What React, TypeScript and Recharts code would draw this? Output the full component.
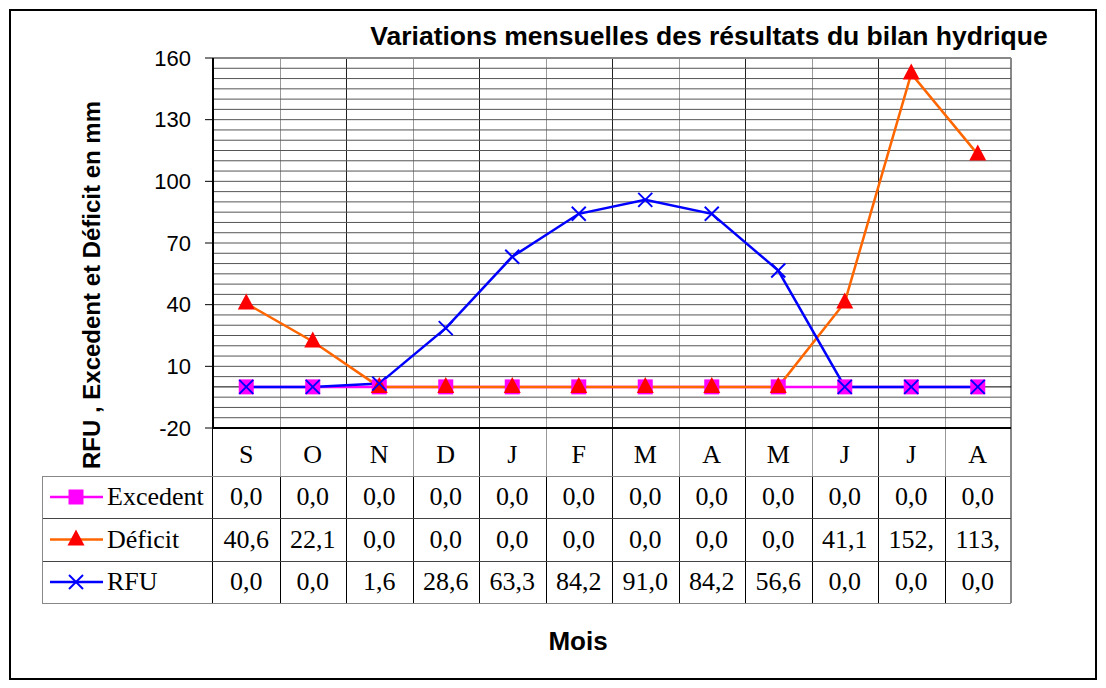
import React from 'react'
import { ComposedChart, Line, XAxis, YAxis, ReferenceLine } from 'recharts'

const months = ['S', 'O', 'N', 'D', 'J', 'F', 'M', 'A', 'M', 'J', 'J', 'A']
const excedent = [0, 0, 0, 0, 0, 0, 0, 0, 0, 0, 0, 0]
const deficit = [40.6, 22.1, 0, 0, 0, 0, 0, 0, 0, 41.1, 152.4, 113.1]
const rfu = [0, 0, 1.6, 28.6, 63.3, 84.2, 91.0, 84.2, 56.6, 0, 0, 0]
const yTicks = [-20, 10, 40, 70, 100, 130, 160]
const gridValues = Array.from({ length: 37 }, (_, i) => -20 + 5 * i).filter(
  (v) => v !== -20 && v !== 0 && v !== 160,
)

const rows = months.map((m, i) => ({
  idx: i,
  excedent: excedent[i],
  deficit: deficit[i],
  rfu: rfu[i],
}))

const W = 1106
const H = 688
const plotLeft = 213
const plotRight = 1011
const plotTop = 58
const plotBottom = 428
const colW = (plotRight - plotLeft) / 12
const rowTops = [428, 476, 518, 561, 603]

const sans = '"Liberation Sans", Arial, sans-serif'
const serif = '"Liberation Serif", "Times New Roman", serif'

// cells in the source table are too narrow for 5 characters, so "152,4" shows as "152,"
const fmt = (v: number) => v.toFixed(1).replace('.', ',').slice(0, 4)

function SquareDot(props: any) {
  const { cx, cy } = props
  if (cx == null || cy == null) return null
  return <rect x={cx - 7.5} y={cy - 7.5} width={15} height={15} fill="#FF00FF" />
}

function TriangleDot(props: any) {
  const { cx, cy } = props
  if (cx == null || cy == null) return null
  return <polygon points={`${cx},${cy - 10} ${cx - 8.5},${cy + 6} ${cx + 8.5},${cy + 6}`} fill="#FF0000" />
}

function CrossDot(props: any) {
  const { cx, cy } = props
  if (cx == null || cy == null) return null
  return (
    <g stroke="#0000FF" strokeWidth={2}>
      <line x1={cx - 7} y1={cy - 7} x2={cx + 7} y2={cy + 7} />
      <line x1={cx - 7} y1={cy + 7} x2={cx + 7} y2={cy - 7} />
    </g>
  )
}

const legendRows = [
  { label: 'Excedent', color: '#FF00FF', values: excedent, Marker: SquareDot },
  { label: 'Déficit', color: '#FF6600', values: deficit, Marker: TriangleDot },
  { label: 'RFU', color: '#0000FF', values: rfu, Marker: CrossDot },
]

export default function App() {
  const abs = (s: React.CSSProperties): React.CSSProperties => ({ position: 'absolute', ...s })

  return (
    <div style={{ position: 'fixed', left: 0, top: 0, width: W, height: H, background: '#fff', overflow: 'hidden' }}>
      {/* outer frame */}
      <div style={abs({ left: 9, top: 9, width: 1084, height: 667, border: '2px solid #000' })} />

      {/* vertical grid lines through plot and header row */}
      {months.slice(1).map((_, i) => (
        <div
          key={'vg' + i}
          style={abs({
            left: plotLeft + (i + 1) * colW,
            top: plotTop,
            width: 1,
            height: rowTops[1] - plotTop,
            background: i % 2 === 0 ? '#999' : '#222',
          })}
        />
      ))}
      {months.slice(1).map((_, i) => (
        <div
          key={'vt' + i}
          style={abs({
            left: plotLeft + (i + 1) * colW,
            top: rowTops[1],
            width: 1,
            height: rowTops[4] - rowTops[1],
            background: '#000',
          })}
        />
      ))}
      <div style={abs({ left: plotRight - 1, top: plotTop, width: 2, height: rowTops[4] - plotTop, background: '#888' })} />
      <div style={abs({ left: plotLeft - 1, top: plotBottom, width: 1, height: rowTops[4] - plotBottom, background: '#000' })} />

      {/* table horizontal lines */}
      {rowTops.slice(1).map((t, i) => (
        <div key={'th' + i} style={abs({ left: 42, top: t, width: plotRight - 42, height: 1, background: i === 0 || i === 3 ? '#888' : '#444' })} />
      ))}
      <div style={abs({ left: 42, top: rowTops[1], width: 1, height: rowTops[4] - rowTops[1], background: '#888' })} />

      {/* table rows */}
      {legendRows.map((r, ri) => {
        const top = rowTops[ri + 1]
        const h = rowTops[ri + 2] - top
        const M = r.Marker
        return (
          <React.Fragment key={r.label}>
            <svg style={abs({ left: 48, top, width: 58, height: h })}>
              <line x1={2} x2={55} y1={h / 2} y2={h / 2} stroke={r.color} strokeWidth={2.5} />
              <M cx={28} cy={h / 2} />
            </svg>
            <div
              style={abs({
                left: 107,
                top,
                height: h,
                lineHeight: h + 'px',
                fontFamily: serif,
                fontSize: 26,
                color: '#000',
              })}
            >
              {r.label}
            </div>
            {r.values.map((v, i) => (
              <div
                key={i}
                style={abs({
                  left: plotLeft + i * colW,
                  top,
                  width: colW,
                  height: h,
                  lineHeight: h + 'px',
                  textAlign: 'center',
                  fontFamily: serif,
                  fontSize: 26,
                  color: '#000',
                })}
              >
                {fmt(v)}
              </div>
            ))}
          </React.Fragment>
        )
      })}

      {/* title */}
      <div
        style={abs({
          left: 309,
          width: 800,
          top: 21,
          textAlign: 'center',
          fontFamily: sans,
          fontWeight: 'bold',
          fontSize: 26.5,
          color: '#000',
          whiteSpace: 'nowrap',
        })}
      >
        Variations mensuelles des résultats du bilan hydrique
      </div>

      {/* y label */}
      <div
        style={abs({
          left: 92 - 250,
          top: 285 - 15,
          width: 500,
          height: 30,
          lineHeight: '30px',
          textAlign: 'center',
          transform: 'rotate(-90deg)',
          fontFamily: sans,
          fontWeight: 'bold',
          fontSize: 24,
          color: '#000',
          whiteSpace: 'nowrap',
        })}
      >
        RFU , Excedent et Déficit en mm
      </div>

      {/* x label */}
      <div
        style={abs({
          left: 478,
          width: 200,
          top: 626,
          textAlign: 'center',
          fontFamily: sans,
          fontWeight: 'bold',
          fontSize: 26,
          color: '#000',
        })}
      >
        Mois
      </div>

      <div style={abs({ left: 0, top: 0 })}>
        <ComposedChart
          width={W}
          height={H}
          data={rows}
          margin={{ top: plotTop, left: plotLeft - 70, right: W - plotRight, bottom: H - plotBottom - 30 }}
        >
          {gridValues.map((v) => (
            <ReferenceLine key={v} y={v} stroke="#555" strokeWidth={1} />
          ))}
          <ReferenceLine y={160} stroke="#888" strokeWidth={2} />
          <ReferenceLine y={0} stroke="#000" strokeWidth={1} />
          <XAxis
            dataKey="idx"
            type="category"
            scale="band"
            height={30}
            axisLine={{ stroke: '#000', strokeWidth: 2 }}
            tickLine={false}
            tickSize={0}
            tickMargin={17}
            interval={0}
            tickFormatter={(i: number) => months[i]}
            tick={{ fill: '#000', fontSize: 26, fontFamily: serif }}
          />
          <YAxis
            width={70}
            domain={[-20, 160]}
            ticks={yTicks}
            interval={0}
            allowDataOverflow
            axisLine={{ stroke: '#000', strokeWidth: 2 }}
            tickLine={{ stroke: '#000' }}
            tickSize={8}
            tickMargin={14}
            tick={{ fill: '#000', fontSize: 22, fontFamily: sans }}
          />
          <Line
            dataKey="excedent"
            stroke="#FF00FF"
            strokeWidth={2.5}
            dot={<SquareDot />}
            activeDot={false}
            isAnimationActive={false}
          />
          <Line
            dataKey="deficit"
            stroke="#FF6600"
            strokeWidth={2.5}
            dot={<TriangleDot />}
            activeDot={false}
            isAnimationActive={false}
          />
          <Line
            dataKey="rfu"
            stroke="#0000FF"
            strokeWidth={2.5}
            dot={<CrossDot />}
            activeDot={false}
            isAnimationActive={false}
          />
        </ComposedChart>
      </div>
    </div>
  )
}
